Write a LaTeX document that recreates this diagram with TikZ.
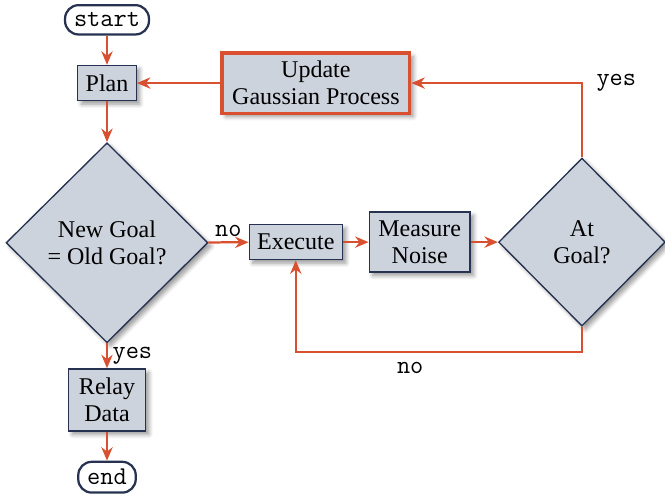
\documentclass[tikz,border=0pt]{standalone}
\usepackage{fontspec}
\setmainfont{Liberation Serif}
\usetikzlibrary{shapes.geometric,arrows.meta,shadows.blur}

\definecolor{boxfill}{RGB}{205,211,221}
\definecolor{boxline}{RGB}{38,50,80}
\definecolor{flowred}{RGB}{217,80,48}

\begin{document}
\begin{tikzpicture}[
  font=\fontsize{10.7}{12.2}\selectfont,
  softshadow/.style={blur shadow={shadow blur steps=6, shadow xshift=1.6pt, shadow yshift=-1.6pt, shadow opacity=40}},
  block/.style={rectangle, draw=boxline, fill=boxfill, line width=0.6pt, align=center,
    inner xsep=3.5pt, minimum height=0.55cm, softshadow},
  decision/.style={diamond, draw=boxline, fill=boxfill, line width=0.6pt, align=center,
    inner sep=0pt, softshadow},
  terminal/.style={rectangle, rounded corners=6pt, draw=boxline, line width=1pt, fill=white,
    font=\fontsize{11.4}{12}\ttfamily, inner xsep=4pt, minimum height=0.44cm},
  flow/.style={draw=flowred, line width=1pt, -{Stealth[length=6pt,width=5pt]}},
  tag/.style={font=\fontsize{11.4}{12}\ttfamily, inner sep=2pt}
]
\useasboundingbox (0,0) rectangle (10.41,-7.78);

% main column
\node[terminal] (start) at (1.675,-0.31) {start};
\node[block] (plan) at (1.675,-1.30) {Plan};
\node[decision, minimum width=3.16cm, minimum height=3.13cm] (newgoal) at (1.675,-3.80) {New Goal\\= Old Goal?};
\node[block, minimum width=1.2cm, minimum height=0.97cm] (relay) at (1.675,-6.26) {Relay\\Data};
\node[terminal] (end) at (1.675,-7.47) {end};

% execution loop
\node[block] (exec) at (4.63,-3.79) {Execute};
\node[block, minimum width=1.58cm, minimum height=0.94cm] (noise) at (6.57,-3.79) {Measure\\Noise};
\node[decision, minimum width=2.61cm, minimum height=2.63cm] (atgoal) at (9.11,-3.79) {At\\Goal?};
\node[block, draw=flowred, line width=1.4pt, minimum width=2.94cm, minimum height=0.94cm] (update) at (4.945,-1.30) {Update\\Gaussian Process};

\coordinate (loop) at (9.11,-5.51);

\draw[flow] (start) -- (plan);
\draw[flow] (plan) -- (newgoal);
\draw[flow] (newgoal) -- node[tag, right] {yes} (relay);
\draw[flow] (relay) -- (end);
\draw[flow] (newgoal) -- node[tag, above] {no} (exec);
\draw[flow] (exec) -- (noise);
\draw[flow] (noise) -- (atgoal);
\draw[flow] (atgoal.north) |- node[tag, pos=0.5, right=4pt] {yes} (update.east);
\draw[flow] (update) -- (plan);
\draw[flow] (atgoal.south) -- (loop) -| node[tag, pos=0.3, below=2pt] {no} (exec.south);
\end{tikzpicture}
\end{document}
